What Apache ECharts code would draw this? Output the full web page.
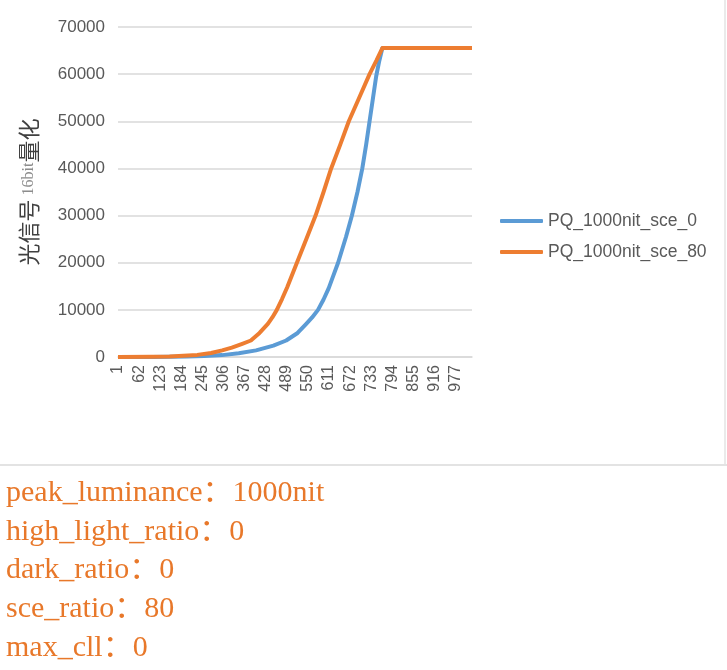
<!DOCTYPE html>
<html>
<head>
<meta charset="utf-8">
<script src="https://cdn.jsdelivr.net/npm/echarts@6/dist/echarts.min.js"></script>
<style>html,body{margin:0;padding:0;background:#fff}#c{width:727px;height:670px}</style>
</head>
<body>
<div id="c"></div>
<script>
// ---- data ----
const categoryCount = 1024; // x categories 1..1024
const xTickLabels = [1, 62, 123, 184, 245, 306, 367, 428, 489, 550, 611, 672, 733, 794, 855, 916, 977];
const yTickLabels = [0, 10000, 20000, 30000, 40000, 50000, 60000, 70000];
const seriesNames = ['PQ_1000nit_sce_0', 'PQ_1000nit_sce_80'];

const sce0Codes  = [1, 100, 200, 250, 302, 350, 400, 450, 487, 520, 545, 562, 579, 595, 610, 623, 637, 660, 677, 693, 707, 718, 728, 738, 747, 756, 765, 800, 900, 1024];
const sce0Values = [0, 10, 90, 200, 400, 800, 1400, 2400, 3500, 5100, 7040, 8400, 10000, 12200, 14600, 17200, 20000, 25500, 30000, 35000, 40000, 45000, 50000, 55000, 59500, 62800, 65535, 65535, 65535, 65535];

const sce80Codes  = [1, 100, 150, 230, 270, 302, 330, 360, 385, 410, 434, 447, 460, 475, 490, 518, 545, 572, 595, 617, 643, 668, 698, 728, 748, 765, 800, 900, 1024];
const sce80Values = [0, 30, 100, 450, 850, 1400, 2000, 2800, 3500, 5100, 7040, 8400, 10000, 12300, 14800, 20000, 25000, 30000, 35000, 40000, 45000, 50000, 55000, 60000, 62900, 65535, 65535, 65535, 65535];

const infoLines = [
  'peak_luminance：1000nit',
  'high_light_ratio：0',
  'dark_ratio：0',
  'sce_ratio：80',
  'max_cll：0'
];
// ----------------------------------------------

const categories = [];
for (let i = 1; i <= categoryCount; i++) categories.push(String(i));
const shownLabels = new Set(xTickLabels.map(String));

const pairs = (codes, vals) => codes.map((c, i) => [String(c), vals[i]]);

const chart = echarts.init(document.getElementById('c'), null, {renderer: 'canvas'});

const infoGraphics = infoLines.map((t, i) => ({
  type: 'text',
  left: 6,
  top: 478 + i * 38.7,
  style: {
    text: t,
    fill: '#E8782A',
    font: '30px "Liberation Serif", "Noto Sans CJK SC", serif'
  }
}));

chart.setOption({
  animation: false,
  backgroundColor: '#ffffff',
  color: ['#5B9BD5', '#ED7D31'],
  grid: {left: 118, right: 255, top: 27, bottom: 313, containLabel: false},
  legend: {
    orient: 'vertical',
    left: 495,
    top: 207,
    itemWidth: 43,
    itemHeight: 4,
    itemGap: 13,
    icon: 'roundRect',
    data: seriesNames,
    textStyle: {color: '#595959', fontSize: 17.5, fontFamily: 'Liberation Sans, Arial, sans-serif'}
  },
  xAxis: {
    type: 'category',
    data: categories,
    boundaryGap: false,
    axisLine: {lineStyle: {color: '#D9D9D9', width: 1.5}},
    axisTick: {show: false},
    axisLabel: {
      interval: 0,
      rotate: 90,
      margin: 8,
      color: '#595959',
      fontSize: 16,
      fontFamily: 'Liberation Sans, Arial, sans-serif',
      formatter: v => (shownLabels.has(v) ? v : '')
    },
    splitLine: {show: false}
  },
  yAxis: {
    type: 'value',
    min: yTickLabels[0],
    max: yTickLabels[yTickLabels.length - 1],
    interval: yTickLabels[1] - yTickLabels[0],
    name: '{a|光信号}{b| 16bit}{a|量化}',
    nameLocation: 'middle',
    nameGap: 78,
    nameTextStyle: {
      rich: {
        a: {fontSize: 22, color: '#404040', fontFamily: '"Noto Sans CJK SC", serif'},
        b: {fontSize: 16, color: '#8c8c8c', fontFamily: '"Liberation Serif", serif'}
      }
    },
    axisLine: {show: false},
    axisTick: {show: false},
    axisLabel: {
      color: '#595959', fontSize: 17, margin: 13,
      fontFamily: 'Liberation Sans, Arial, sans-serif',
      formatter: v => String(v)
    },
    splitLine: {lineStyle: {color: '#D9D9D9', width: 1.5}}
  },
  series: [
    {
      name: seriesNames[0],
      type: 'line',
      data: pairs(sce0Codes, sce0Values),
      showSymbol: false,
      smooth: false,
      lineStyle: {width: 4, color: '#5B9BD5', join: 'round'},
      itemStyle: {color: '#5B9BD5'}
    },
    {
      name: seriesNames[1],
      type: 'line',
      data: pairs(sce80Codes, sce80Values),
      showSymbol: false,
      smooth: false,
      lineStyle: {width: 4, color: '#ED7D31', join: 'round'},
      itemStyle: {color: '#ED7D31'}
    }
  ],
  graphic: [
    {type: 'line', shape: {x1: 0, y1: 465, x2: 727, y2: 465}, style: {stroke: '#E3E3E3', lineWidth: 2}},
    {type: 'line', shape: {x1: 725, y1: 0, x2: 725, y2: 465}, style: {stroke: '#E3E3E3', lineWidth: 1.5}}
  ].concat(infoGraphics)
});
</script>
</body>
</html>
